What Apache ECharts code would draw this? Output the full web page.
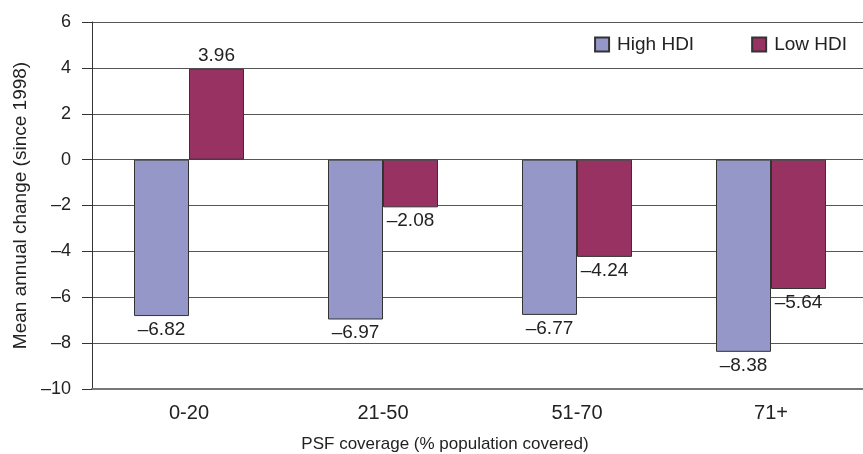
<!DOCTYPE html>
<html>
<head>
<meta charset="utf-8">
<script src="https://cdn.jsdelivr.net/npm/echarts@6/dist/echarts.min.js"></script>
<style>
html,body{margin:0;padding:0;background:#fff;}
#chart{width:863px;height:454px;}
</style>
</head>
<body>
<div id="chart"></div>
<script>
const categories = ['0-20', '21-50', '51-70', '71+'];
const highHDI = [-6.82, -6.97, -6.77, -8.38];
const lowHDI = [3.96, -2.08, -4.24, -5.64];
const seriesNames = ['High HDI', 'Low HDI'];
const yMin = -10, yMax = 6, yStep = 2;

const FONT = 'Liberation Sans, Arial, Helvetica, sans-serif';
const dash = v => String(v).replace('-', '\u2013');

const chart = echarts.init(document.getElementById('chart'), null, {renderer: 'canvas'});
const labelCfg = {
  show: true,
  position: 'outside',
  distance: 4,
  color: '#222',
  fontFamily: FONT,
  fontSize: 19,
  formatter: p => dash(p.value.toFixed(2))
};
chart.setOption({
  animation: false,
  backgroundColor: '#fff',
  textStyle: {fontFamily: FONT},
  grid: {left: 92, right: -5, top: 22, bottom: 65, containLabel: false, outerBoundsMode: 'none'},
  legend: {
    right: 11, top: 30,
    itemWidth: 14, itemHeight: 14, itemGap: 57,
    icon: 'rect',
    data: seriesNames,
    textStyle: {fontFamily: FONT, fontSize: 19, color: '#222', padding: [0, 0, 0, 3]}
  },
  xAxis: {
    type: 'category',
    data: categories,
    position: 'bottom',
    axisLine: {onZero: false, lineStyle: {color: '#777', width: 2}},
    axisTick: {show: false},
    axisLabel: {fontFamily: FONT, fontSize: 20, color: '#222', margin: 14},
    name: 'PSF coverage (% population covered)',
    nameLocation: 'middle',
    nameGap: 47,
    nameTextStyle: {fontFamily: FONT, fontSize: 17, color: '#222', padding: [0, 70, 0, 0]}
  },
  yAxis: {
    type: 'value',
    min: yMin, max: yMax, interval: yStep,
    axisLine: {show: true, lineStyle: {color: '#333', width: 1}},
    axisTick: {show: true, length: 10, lineStyle: {color: '#333'}},
    splitLine: {show: true, lineStyle: {color: '#555', width: 1}},
    axisLabel: {fontFamily: FONT, fontSize: 18, color: '#222', margin: 21, formatter: v => dash(v)},
    name: 'Mean annual change (since 1998)',
    nameLocation: 'middle',
    nameGap: 61,
    nameTextStyle: {fontFamily: FONT, fontSize: 19, color: '#222'}
  },
  series: [
    {
      name: seriesNames[0], type: 'bar', data: highHDI,
      barWidth: 55, barGap: '0%',
      itemStyle: {color: '#9597c9', borderColor: '#333', borderWidth: 1},
      label: labelCfg
    },
    {
      name: seriesNames[1], type: 'bar', data: lowHDI,
      barWidth: 55, barGap: '0%',
      itemStyle: {color: '#983263', borderColor: '#333', borderWidth: 1},
      label: labelCfg
    }
  ]
});
</script>
</body>
</html>
